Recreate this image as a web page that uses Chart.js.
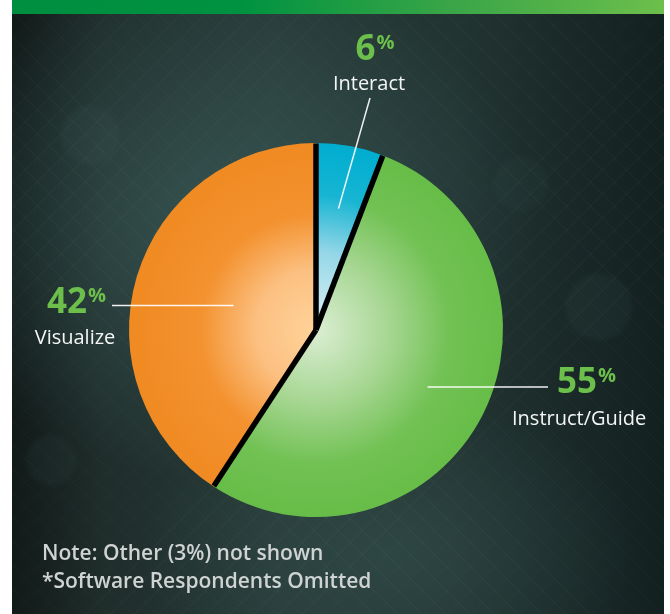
<!DOCTYPE html>
<html>
<head>
<meta charset="utf-8">
<script src="https://cdn.jsdelivr.net/npm/chart.js@4/dist/chart.umd.min.js"></script>
<style>
  html, body { margin: 0; padding: 0; background: #ffffff; }
  #stage { position: relative; width: 670px; height: 614px; overflow: hidden; }
  #panel {
    position: absolute; left: 12px; top: 0; width: 652px; height: 614px;
    background:
      repeating-linear-gradient(45deg, rgba(255,255,255,0.018) 0 1px, rgba(255,255,255,0) 1px 17px),
      repeating-linear-gradient(-45deg, rgba(255,255,255,0.018) 0 1px, rgba(255,255,255,0) 1px 17px),
      radial-gradient(circle at 12% 22%, rgba(70,105,100,0.10) 0 26px, rgba(70,105,100,0) 32px),
      radial-gradient(circle at 90% 50%, rgba(70,105,100,0.09) 0 30px, rgba(70,105,100,0) 36px),
      radial-gradient(circle at 78% 30%, rgba(70,105,100,0.07) 0 24px, rgba(70,105,100,0) 30px),
      radial-gradient(circle at 6% 75%, rgba(70,105,100,0.08) 0 22px, rgba(70,105,100,0) 28px),
      radial-gradient(ellipse 48% 42% at 32% 36%, rgba(62,98,95,0.65), rgba(62,98,95,0) 100%),
      radial-gradient(ellipse 38% 26% at 58% 90%, rgba(58,90,86,0.45), rgba(58,90,86,0) 100%),
      linear-gradient(90deg, #111a19 0%, #1f2d2b 14%, #273a38 40%, #223432 68%, #132020 100%);
  }
  #band {
    position: absolute; left: 12px; top: 0; width: 652px; height: 14px;
    background: linear-gradient(90deg, #008e40 0%, #009240 35%, #3ea748 70%, #6cbf4b 100%);
  }
  #chart { position: absolute; left: 0; top: 0; }
  .note {
    position: absolute; left: 42px; color: #cfd3d2;
    font-family: 'Open Sans', sans-serif; font-weight: 600; font-size: 21px;
    line-height: 21px; white-space: nowrap;
  }
</style>
</head>
<body>
<div id="stage">
  <div id="panel"></div>
  <div id="band"></div>
  <canvas id="chart" width="670" height="614"></canvas>
  <div class="note" style="top:542px">Note: Other (3%) not shown</div>
  <div class="note" style="top:570px">*Software Respondents Omitted</div>
</div>
<script>
// Survey shares per category, clockwise from 12 o'clock
const categories = ['Interact', 'Instruct/Guide', 'Visualize'];
const shares = [6, 55, 42];
const valueLabels = ['6', '55', '42'];

// Radial colour ramps (centre -> rim) for each slice
const sliceRamps = [
  [[0, '#e2f4f8'], [0.42, '#94d6e7'], [0.72, '#17b5d3'], [1, '#00adcf']],
  [[0, '#dbeed3'], [0.38, '#a8d794'], [0.72, '#71c153'], [1, '#67bd48']],
  [[0, '#ffd39a'], [0.32, '#fcc081'], [0.62, '#f3922f'], [1, '#f08a22']]
];

// Callout layout: anchor point inside the slice (fraction of radius along the
// slice mid-angle), leader end and text placement as offsets from the pie centre
const callouts = [
  { anchor: 0.66, lineEnd: [54, -232], num: { x: 59, y: -270, align: 'center' }, name: { x: 53, y: -240, align: 'center' } },
  { anchor: 0.67, lineEnd: [232, null], num: { x: 241, y: 63, align: 'left' }, name: { x: 196, y: 95, align: 'left' } },
  { anchor: 0.46, lineEnd: [-204, null], num: { x: -269, y: -17, align: 'left' }, name: { x: -241, y: 14, align: 'center' } }
];

const FONT = "'Open Sans', sans-serif";
const numberGreen = '#6cbf4b';

function sliceFill(ctx) {
  const chart = ctx.chart;
  const area = chart.chartArea;
  const ramp = sliceRamps[ctx.dataIndex];
  if (!area) return ramp[ramp.length - 1][1];
  const cx = (area.left + area.right) / 2;
  const cy = (area.top + area.bottom) / 2;
  const r = Math.min(area.right - area.left, area.bottom - area.top) / 2;
  const g = chart.ctx.createRadialGradient(cx, cy, 0, cx, cy, r);
  ramp.forEach(([stop, col]) => g.addColorStop(stop, col));
  return g;
}

// Black separators along each slice edge
const separators = {
  id: 'separators',
  afterDatasetsDraw(chart) {
    const ctx = chart.ctx;
    const arcs = chart.getDatasetMeta(0).data;
    ctx.save();
    ctx.strokeStyle = '#000000';
    ctx.lineWidth = 5.5;
    ctx.lineCap = 'butt';
    arcs.forEach(arc => {
      const { x, y, startAngle, outerRadius } = arc.getProps(['x', 'y', 'startAngle', 'outerRadius'], true);
      ctx.beginPath();
      ctx.moveTo(x, y);
      ctx.lineTo(x + Math.cos(startAngle) * (outerRadius - 0.5), y + Math.sin(startAngle) * (outerRadius - 0.5));
      ctx.stroke();
    });
    ctx.restore();
  }
};

// Value callouts with leader lines
const calloutPlugin = {
  id: 'callouts',
  afterDraw(chart) {
    const ctx = chart.ctx;
    const arcs = chart.getDatasetMeta(0).data;
    ctx.save();
    arcs.forEach((arc, i) => {
      const { x, y, startAngle, endAngle, outerRadius } =
        arc.getProps(['x', 'y', 'startAngle', 'endAngle', 'outerRadius'], true);
      const c = callouts[i];
      const mid = (startAngle + endAngle) / 2;
      const ax = x + Math.cos(mid) * outerRadius * c.anchor;
      const ay = y + Math.sin(mid) * outerRadius * c.anchor;
      const ex = x + c.lineEnd[0];
      const ey = c.lineEnd[1] === null ? ay : y + c.lineEnd[1];

      ctx.strokeStyle = 'rgba(255,255,255,0.92)';
      ctx.lineWidth = 1.5;
      ctx.beginPath();
      ctx.moveTo(ax, ay);
      ctx.lineTo(ex, ey);
      ctx.stroke();

      // number with superscript percent sign
      ctx.textBaseline = 'alphabetic';
      ctx.fillStyle = numberGreen;
      const bigFont = 'bold 35px ' + FONT;
      const supFont = 'bold 20px ' + FONT;
      ctx.font = bigFont;
      const numW = ctx.measureText(valueLabels[i]).width;
      ctx.font = supFont;
      const pctW = ctx.measureText('%').width;
      const total = numW + 1 + pctW;
      let nx = x + c.num.x;
      if (c.num.align === 'center') nx -= total / 2;
      const ny = y + c.num.y;
      ctx.textAlign = 'left';
      ctx.font = bigFont;
      ctx.fillText(valueLabels[i], nx, ny);
      ctx.font = supFont;
      ctx.fillText('%', nx + numW + 1, ny - 11);

      // category name
      ctx.fillStyle = '#f4f6f5';
      ctx.font = '20px ' + FONT;
      ctx.textAlign = c.name.align;
      ctx.fillText(categories[i], x + c.name.x, y + c.name.y);
    });
    ctx.restore();
  }
};

new Chart(document.getElementById('chart'), {
  type: 'pie',
  data: {
    labels: categories,
    datasets: [{
      data: shares,
      backgroundColor: sliceFill,
      borderWidth: 0,
      hoverOffset: 0,
      offset: 0
    }]
  },
  options: {
    responsive: false,
    animation: false,
    layout: { padding: { left: 129, right: 167, top: 143, bottom: 97 } },
    plugins: {
      legend: { display: false },
      tooltip: { enabled: false }
    },
    events: []
  },
  plugins: [separators, calloutPlugin]
});
</script>
</body>
</html>
